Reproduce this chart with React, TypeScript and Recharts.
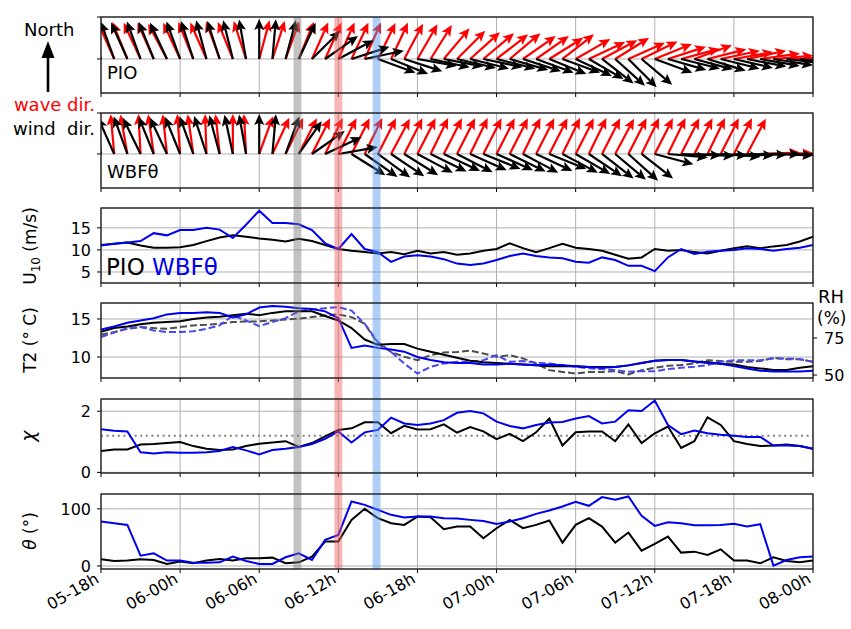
import { CartesianGrid, ComposedChart, Line, ReferenceArea, ReferenceLine, Scatter, XAxis, YAxis } from 'recharts';

const FONT = 'DejaVu Sans, sans-serif';

// hours since 05-18h, one sample per hour
const hours = Array.from({ length: 55 }, (_, i) => i);
const tickHours = [0, 6, 12, 18, 24, 30, 36, 42, 48, 54];
const tickLabels = ['05-18h', '06-00h', '06-06h', '06-12h', '06-18h', '07-00h', '07-06h', '07-12h', '07-18h', '08-00h'];

// direction the arrow points to, degrees clockwise from north
const windDirPio = [
  -22, -20, -24, -20, -22, -25, -20, -18, -15, -18, -14, -10, 0, 5, 15, 25, 45, 55,
  62, 72, 78, 110, 112, 108, 100, 102, 101, 103, 104, 102, 104, 106, 108, 110, 112, 110,
  115, 120, 128, 132, 135, 130, 110, 106, 104, 105, 107, 104, 103, 101, 100, 99, 97, 96, 95,
];
const waveDirPio = [
  -20, -24, -22, -25, -24, -28, -25, -22, -24, -20, -22, -18, 15, 18, 20, 22, 24, 24,
  24, 25, 24, 26, 25, 28, 30, 32, 40, 45, 48, 50, 52, 50, 55, 55, 58, 52,
  60, 65, 62, 58, 66, 64, 68, 72, 75, 70, 76, 78, 80, 78, 82, 85, 88, 89, 90,
];
const windDirWbf = [
  -22, -24, -20, -26, -22, -25, -22, -20, -18, -15, -12, -10, 0, 5, 20, 35, 55, 65,
  80, 122, 125, 126, 124, 122, 118, 116, 115, 117, 114, 112, 114, 116, 118, 115, 112, 118,
  120, 124, 128, 130, 132, 128, 105, 95, 92, 93, 92, 94, 92, 91, 90, 92, 91, 90, 90,
];
const waveDirWbf = [
  -8, -5, -10, -3, -8, -6, -4, -8, -2, -6, 0, -3, 20, 25, 26, 27, 27, 26,
  27, 27, 26, 27, 28, 27, 27, 26, 27, 27, 26, 27, 27, 27, 26, 27, 27, 26,
  27, 26, 27, 28, 27, 26, 27, 26, 27, 27, 26, 27, 27, 28, 88, 89, 90, 89, 90,
];

const u10Pio = [
  11.1, 11.4, 11.7, 11.0, 10.5, 10.5, 10.6, 11.1, 12.0, 12.8, 13.3, 13.0, 12.6, 12.3, 11.9, 12.5, 12.0, 11.1,
  10.2, 9.8, 9.5, 9.2, 9.5, 9.0, 9.8, 9.2, 9.5, 8.9, 9.2, 9.8, 10.2, 11.5, 10.4, 9.5, 10.4, 11.4,
  10.5, 10.2, 9.8, 8.9, 8.0, 8.3, 10.2, 9.8, 10.0, 9.5, 9.2, 9.8, 10.4, 10.8, 10.4, 10.8, 11.1, 11.9, 13.0,
];
const u10Wbf = [
  11.0, 11.4, 11.7, 12.0, 13.8, 13.3, 14.5, 14.5, 15.0, 14.6, 12.7, 15.7, 18.9, 16.1, 16.1, 15.8, 14.5, 11.5,
  10.2, 13.6, 10.2, 9.5, 7.3, 8.5, 8.8, 8.5, 7.9, 6.9, 6.6, 6.9, 7.7, 8.6, 9.2, 8.6, 8.3, 8.1,
  7.3, 7.1, 8.3, 7.7, 6.4, 6.4, 5.2, 8.3, 10.2, 9.1, 9.6, 9.8, 10.0, 10.4, 10.2, 9.8, 10.2, 10.5, 11.1,
];
const t2Pio = [
  13.3, 13.8, 14.0, 14.3, 14.5, 14.6, 14.7, 15.0, 15.2, 15.3, 15.5, 15.7, 15.5, 15.8, 16.0, 16.0, 16.0, 15.4,
  14.8, 13.8, 12.3, 11.6, 11.7, 11.7, 11.1, 10.7, 10.3, 9.9, 9.5, 9.3, 9.2, 9.1, 9.0, 8.9, 8.8, 8.8,
  8.8, 8.7, 8.7, 8.7, 8.9, 9.2, 9.5, 9.6, 9.6, 9.4, 9.3, 9.1, 9.0, 8.7, 8.5, 8.3, 8.3, 8.6, 8.8,
];
const t2Wbf = [
  13.6, 14.0, 14.5, 14.8, 15.1, 15.6, 15.8, 15.8, 15.9, 15.8, 15.2, 15.6, 16.5, 16.7, 16.6, 16.4, 16.3, 16.0,
  15.1, 11.2, 11.5, 11.2, 11.0, 10.7, 10.0, 9.6, 9.3, 9.2, 9.2, 9.0, 9.0, 9.1, 9.0, 8.9, 9.0, 8.9,
  8.8, 8.7, 8.6, 8.7, 8.9, 9.2, 9.5, 9.6, 9.6, 9.4, 9.2, 9.1, 8.8, 8.5, 8.2, 8.1, 8.1, 8.1, 8.2,
];
const rhPio = [
  77.2, 79.0, 81.2, 82.4, 81.7, 81.2, 82.4, 83.5, 83.9, 84.6, 85.7, 86.2, 86.2, 86.8, 87.5, 88.0, 89.1, 90.2,
  90.9, 89.1, 84.6, 71.2, 65.6, 62.3, 60.0, 63.4, 65.2, 65.6, 66.5, 64.5, 62.3, 63.4, 61.2, 57.8, 53.3, 52.1,
  51.0, 52.1, 52.1, 52.6, 50.4, 53.3, 54.9, 56.2, 56.7, 57.8, 60.0, 59.4, 58.9, 58.9, 59.4, 61.6, 60.7, 60.7, 58.9,
];
const rhWbf = [
  75.7, 78.6, 81.7, 82.4, 80.1, 79.0, 79.0, 79.5, 81.2, 83.5, 90.2, 86.8, 83.0, 85.7, 88.4, 92.9, 94.2, 95.1,
  95.8, 93.5, 84.6, 72.3, 65.6, 57.8, 51.0, 55.6, 57.8, 58.9, 58.9, 60.0, 63.4, 58.9, 59.4, 58.3, 57.8, 56.7,
  55.6, 54.5, 54.0, 53.3, 52.2, 52.6, 52.6, 54.0, 54.9, 55.6, 56.7, 58.9, 60.0, 60.0, 60.0, 61.2, 61.2, 60.7, 58.9,
];
const chiPio = [
  0.70, 0.75, 0.75, 0.91, 0.93, 0.96, 0.99, 0.86, 0.77, 0.73, 0.75, 0.86, 0.94, 0.98, 1.02, 0.83, 0.96, 1.18,
  1.39, 1.44, 1.64, 1.64, 1.28, 1.52, 1.40, 1.41, 1.57, 1.30, 1.48, 1.34, 1.09, 1.26, 1.02, 1.31, 1.76, 0.88,
  1.31, 1.34, 1.34, 1.02, 1.57, 0.96, 1.28, 1.50, 0.80, 1.02, 1.80, 1.55, 1.02, 0.93, 0.86, 0.88, 0.91, 0.86, 0.77,
];
const chiWbf = [
  1.41, 1.36, 1.34, 0.66, 0.62, 0.66, 0.64, 0.64, 0.66, 0.70, 0.83, 0.72, 0.59, 0.73, 0.77, 0.83, 0.93, 1.10,
  1.34, 0.98, 1.31, 1.39, 1.79, 1.60, 1.55, 1.60, 1.71, 1.95, 2.01, 1.93, 1.66, 1.52, 1.44, 1.55, 1.63, 1.65,
  1.76, 1.84, 1.60, 1.66, 2.03, 2.01, 2.35, 1.55, 1.25, 1.37, 1.28, 1.23, 1.20, 1.16, 1.16, 0.88, 0.88, 0.86, 0.77,
];
const chiRef = 1.2;
const thetaPio = [
  11.7, 8.8, 9.4, 11.7, 10.5, 3.5, 7.6, 4.7, 9.4, 12.3, 9.4, 13.5, 13.5, 14.6, 4.7, 6.4, 16.4, 42.7,
  42.7, 80.7, 100, 83.6, 74.9, 71.9, 86.5, 85.4, 64.3, 69.0, 69.0, 48.5, 66.1, 80.7, 66.1, 71.9, 79.5, 40.9,
  71.9, 83.6, 69.0, 40.9, 58.5, 26.9, 38.6, 51.5, 23.4, 25.1, 19.3, 29.2, 9.4, 9.4, 4.7, 15.2, 8.8, 6.4, 9.4,
];
const thetaWbf = [
  77.8, 74.9, 71.9, 18.1, 22.2, 9.4, 9.4, 5.8, 5.8, 6.4, 16.4, 8.8, 3.5, 3.5, 15.2, 22.2, 10.5, 45.6,
  54.4, 112.9, 107.0, 98.2, 89.5, 84.8, 86.5, 86.5, 83.6, 83.0, 80.7, 78.9, 73.7, 77.8, 83.6, 91.2, 97.1, 104.1,
  112.3, 105.3, 120.5, 115.8, 121.6, 87.7, 70.2, 76.6, 74.9, 71.3, 71.3, 71.9, 73.7, 69.0, 73.1, 0.6, 10.5, 15.2, 16.4,
];

// event times (hours since 05-18h) marked by vertical bands
const eventHours = [14.9, 18.0, 20.9];
const eventColors = ['#7a7a7a', '#ee5a5a', '#4f95ef'];

const rows = hours.map((h, i) => ({
  h,
  zero: 0,
  windDirPio: windDirPio[i],
  waveDirPio: waveDirPio[i],
  windDirWbf: windDirWbf[i],
  waveDirWbf: waveDirWbf[i],
  u10Pio: u10Pio[i],
  u10Wbf: u10Wbf[i],
  t2Pio: t2Pio[i],
  t2Wbf: t2Wbf[i],
  rhPio: rhPio[i],
  rhWbf: rhWbf[i],
  chiPio: chiPio[i],
  chiWbf: chiWbf[i],
  thetaPio: thetaPio[i],
  thetaWbf: thetaWbf[i],
}));

const panels = [
  { top: 17, h: 76 },
  { top: 113, h: 75 },
  { top: 208, h: 75 },
  { top: 303, h: 75 },
  { top: 399, h: 74 },
  { top: 494, h: 75 },
];

const BLUE = '#0000ee';
const GRID = '#b0b0b0';
const tickFont = { fill: '#000', fontSize: 16, fontFamily: FONT };

function arrowShape(key: string, color: string) {
  return (p: any) => {
    const a = (p.payload[key] * Math.PI) / 180;
    const L = 40, hl = 11, hw = 5;
    const ux = Math.sin(a), uy = -Math.cos(a);
    const nx = -uy, ny = ux;
    const x0 = p.cx, y0 = p.cy;
    const x1 = x0 + ux * L, y1 = y0 + uy * L;
    const bx = x1 - ux * hl, by = y1 - uy * hl;
    const mx = x1 - ux * hl * 0.8, my = y1 - uy * hl * 0.8;
    return (
      <g>
        <line x1={x0} y1={y0} x2={mx} y2={my} stroke={color} strokeWidth={2.2} />
        <polygon
          points={`${x1},${y1} ${bx + nx * hw},${by + ny * hw} ${mx},${my} ${bx - nx * hw},${by - ny * hw}`}
          fill={color}
        />
      </g>
    );
  };
}

const NoTick = () => <g />;

function BottomTick(p: any) {
  const i = tickHours.indexOf(p.payload.value);
  const x = p.x - 1, y = 98;
  return (
    <text x={x} y={y} textAnchor="end" transform={`rotate(-30 ${x} ${y})`} fontSize={16} fontFamily={FONT} fill="#000">
      {tickLabels[i]}
    </text>
  );
}

const X_H_SMALL = 16;

function xAxis(labels: boolean) {
  return (
    <XAxis
      dataKey="h"
      type="number"
      domain={[0, 54]}
      ticks={tickHours}
      interval={0}
      allowDataOverflow
      axisLine={false}
      stroke="#000"
      tickSize={4}
      height={labels ? 60 : X_H_SMALL}
      tick={labels ? BottomTick : NoTick}
    />
  );
}

function Panel({ idx, right, children }: { idx: number; right?: boolean; children: any }) {
  const p = panels[idx];
  const last = idx === panels.length - 1;
  return (
    <div style={{ position: 'absolute', left: 0, top: p.top - 10 }}>
      <ComposedChart
        width={851}
        height={p.h + 10 + (last ? 60 : X_H_SMALL)}
        data={rows}
        margin={{ top: 10, right: right ? 0 : 38, left: 41, bottom: 0 }}
      >
        {children}
      </ComposedChart>
    </div>
  );
}

function ArrowPanel({ idx, wave, wind, lo }: { idx: number; wave: string; wind: string; lo: number }) {
  return (
    <Panel idx={idx}>
      <CartesianGrid stroke={GRID} strokeWidth={1} />
      {xAxis(false)}
      <YAxis type="number" domain={[lo, 1]} ticks={[0, 1]} interval={0} allowDataOverflow width={60}
        axisLine={false} stroke="#000" tickSize={4} tick={NoTick} />
      <Scatter dataKey="zero" shape={arrowShape(wave, '#ff0000')} isAnimationActive={false} />
      <Scatter dataKey="zero" shape={arrowShape(wind, '#000000')} isAnimationActive={false} />
    </Panel>
  );
}

const lineProps = { dot: false, activeDot: false, isAnimationActive: false, strokeWidth: 2, type: 'linear' as const };

export default function App() {
  return (
    <div style={{ position: 'absolute', left: 0, top: 0, width: 851, height: 629, background: '#fff', fontFamily: FONT }}>
      <ArrowPanel idx={0} wave="waveDirPio" wind="windDirPio" lo={-0.81} />
      <ArrowPanel idx={1} wave="waveDirWbf" wind="windDirWbf" lo={-0.83} />

      <Panel idx={2}>
        <CartesianGrid stroke={GRID} strokeWidth={1} />
        {xAxis(false)}
        <YAxis type="number" domain={[2.5, 19.5]} ticks={[5, 10, 15]} interval={0} allowDataOverflow width={60}
          axisLine={false} stroke="#000" tickSize={4} tickMargin={6} tick={tickFont} />
        <Line dataKey="u10Pio" stroke="#000" {...lineProps} />
        <Line dataKey="u10Wbf" stroke={BLUE} {...lineProps} />
      </Panel>

      <Panel idx={3} right>
        <CartesianGrid stroke={GRID} strokeWidth={1} yAxisId="l" />
        {xAxis(false)}
        <YAxis yAxisId="l" type="number" domain={[7.24, 17.1]} ticks={[10, 15]} interval={0} allowDataOverflow width={60}
          axisLine={false} stroke="#000" tickSize={4} tickMargin={6} tick={tickFont} />
        <YAxis yAxisId="r" orientation="right" type="number" domain={[48, 98.6]} ticks={[50, 75]} interval={0}
          allowDataOverflow width={38} axisLine={false} stroke="#000" tickSize={4} tickMargin={7} tick={tickFont} />
        <Line yAxisId="r" dataKey="rhPio" stroke="#4d4d4d" strokeDasharray="7 3" {...lineProps} />
        <Line yAxisId="r" dataKey="rhWbf" stroke="#4a4af0" strokeDasharray="7 3" {...lineProps} />
        <Line yAxisId="l" dataKey="t2Pio" stroke="#000" {...lineProps} />
        <Line yAxisId="l" dataKey="t2Wbf" stroke={BLUE} {...lineProps} />
      </Panel>

      <Panel idx={4}>
        <CartesianGrid stroke={GRID} strokeWidth={1} />
        {xAxis(false)}
        <YAxis type="number" domain={[-0.02, 2.4]} ticks={[0, 2]} interval={0} allowDataOverflow width={60}
          axisLine={false} stroke="#000" tickSize={4} tickMargin={6} tick={tickFont} />
        <ReferenceLine y={chiRef} stroke="#808080" strokeWidth={2} strokeDasharray="2 3.6" />
        <Line dataKey="chiPio" stroke="#000" {...lineProps} />
        <Line dataKey="chiWbf" stroke={BLUE} {...lineProps} />
      </Panel>

      <Panel idx={5}>
        <CartesianGrid stroke={GRID} strokeWidth={1} />
        {xAxis(true)}
        <YAxis type="number" domain={[-5.3, 126]} ticks={[0, 100]} interval={0} allowDataOverflow width={60}
          axisLine={false} stroke="#000" tickSize={4} tickMargin={6} tick={tickFont} />
        <Line dataKey="thetaPio" stroke="#000" {...lineProps} />
        <Line dataKey="thetaWbf" stroke={BLUE} {...lineProps} />
      </Panel>

      {/* event bands across all panels */}
      <div style={{ position: 'absolute', left: 0, top: 17 }}>
        <ComposedChart width={851} height={552} data={rows} margin={{ top: 0, right: 38, left: 101, bottom: 0 }}>
          <XAxis dataKey="h" type="number" domain={[0, 54]} height={0} tick={false} tickLine={false} axisLine={false} />
          <YAxis type="number" domain={[0, 1]} width={0} tick={false} tickLine={false} axisLine={false} />
          <Line dataKey="zero" stroke="none" dot={false} activeDot={false} isAnimationActive={false} />
          {eventHours.map((t, i) => (
            <ReferenceArea key={i} x1={t - 0.3} x2={t + 0.3} y1={0} y2={1} fill={eventColors[i]} fillOpacity={0.45}
              stroke="none" ifOverflow="visible" />
          ))}
        </ComposedChart>
      </div>

      <svg width={851} height={629} style={{ position: 'absolute', left: 0, top: 0, pointerEvents: 'none' }} fontFamily={FONT}>
        {panels.map((p, i) => (
          <rect key={i} x={101} y={p.top} width={712} height={p.h} fill="none" stroke="#1a1a1a" strokeWidth={1.3} />
        ))}

        <text x={24} y={36} fontSize={18} fill="#000">North</text>
        <line x1={48} y1={92} x2={48} y2={55} stroke="#000" strokeWidth={2.6} />
        <polygon points="48,41 41.5,58 54.5,58" fill="#000" />
        <text x={95} y={111} fontSize={18} fill="#ff0000" textAnchor="end">wave dir.</text>
        <text x={95} y={135} fontSize={18} fill="#000" textAnchor="end" xmlSpace="preserve">wind  dir.</text>

        <text x={107} y={79} fontSize={18} fill="#000">PIO</text>
        <text x={107} y={178} fontSize={18} fill="#000">WBFθ</text>

        <text x={106} y={275} fontSize={23} fill="#000">PIO <tspan fill={BLUE}>WBFθ</tspan></text>

        <text x={36} y={246} fontSize={17} textAnchor="middle" transform="rotate(-90 36 246)">
          U<tspan fontSize={12} dy={4}>10</tspan><tspan dy={-4}> (m/s)</tspan>
        </text>
        <text x={36} y={340} fontSize={17} textAnchor="middle" transform="rotate(-90 36 340)">T2 (° C)</text>
        <text x={35} y={436} fontSize={19} fontStyle="italic" textAnchor="middle" transform="rotate(-90 35 436)">χ</text>
        <text x={36} y={531} fontSize={17} textAnchor="middle" transform="rotate(-90 36 531)">
          <tspan fontStyle="italic">θ</tspan> (°)
        </text>

        <text x={818} y={303} fontSize={18} fill="#000">RH</text>
        <text x={817} y={324} fontSize={17} fill="#000">(%)</text>
      </svg>
    </div>
  );
}
